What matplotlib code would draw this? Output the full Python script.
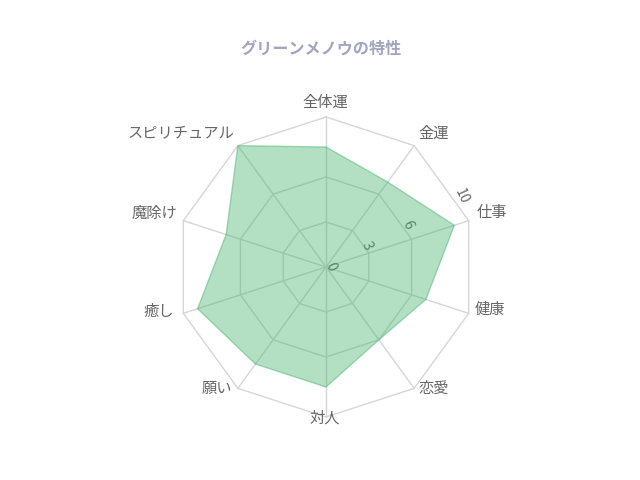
import matplotlib
matplotlib.use('Agg')
import matplotlib.pyplot as plt
import numpy as np

plt.rcParams['font.family'] = ['Noto Sans CJK JP', 'DejaVu Sans']

# データ
title = 'グリーンメノウの特性'
labels = ['全体運', '金運', '仕事', '健康', '恋愛', '対人', '願い', '癒し', '魔除け', 'スピリチュアル']
values = [8, 7, 9, 7, 6, 8, 8, 9, 7, 10]
ticks = [0, 3, 6, 10]
r_max = 10

# ラベルの位置調整 (pixel) と揃え方
label_offsets = [(-1, 15), (4, 12.6), (8, 8.6), (6, 3.4), (4, 0),
                 (-1, -1), (-6, -0.6), (-9, 2.4), (-6, 7.6), (-4, 12.6)]
label_ha = ['center', 'left', 'left', 'left', 'left',
            'center', 'right', 'right', 'right', 'right']

grid_color = '#d6d6d6'
fill_color = (65 / 255, 175 / 255, 105 / 255, 0.4)
edge_color = (65 / 255, 175 / 255, 105 / 255, 0.45)

fig = plt.figure(figsize=(6.4, 4.8), dpi=100)
ax = fig.add_axes([0.275, 0.13125, 0.46875, 0.625], projection='polar')
ax.set_theta_zero_location('N')
ax.set_theta_direction(-1)
ax.set_ylim(0, r_max)
ax.grid(False)
ax.set_xticks([])
ax.set_yticks([])
ax.spines['polar'].set_visible(False)
ax.patch.set_alpha(0)

n = len(labels)
angles = np.arange(n) * 2 * np.pi / n
closed = np.append(angles, angles[0])

# グリッド (多角形)
for t in ticks[1:]:
    ax.plot(closed, [t] * (n + 1), color=grid_color, lw=1, zorder=1, clip_on=False)
for a in angles:
    ax.plot([a, a], [0, r_max], color=grid_color, lw=1, zorder=1, clip_on=False)

# 目盛りラベル
for t in ticks:
    if t == 0:
        ax.text(np.radians(85), 0.3, str(t), rotation=-65, ha='center', va='center',
                fontsize=10, color='#666666', zorder=2)
    else:
        ax.text(np.radians(62.5), t * 1.02, str(t), rotation=-65, ha='center', va='center',
                fontsize=10, color='#666666', zorder=2)

# データ
vals = np.append(values, values[0])
ax.fill(closed, vals, facecolor=fill_color, edgecolor=edge_color, lw=1, zorder=3)

# 項目ラベル
for a, lab, off, ha in zip(angles, labels, label_offsets, label_ha):
    ax.annotate(lab, xy=(a, r_max), xytext=off, textcoords='offset pixels',
                ha=ha, va='center', fontsize=11, color='#666666', annotation_clip=False)

fig.text(0.502, 1 - 49 / 480, title, ha='center', va='center', fontsize=11.6,
         fontweight='bold', color='#a3a5bf')

fig.savefig('out.png', dpi=100)
